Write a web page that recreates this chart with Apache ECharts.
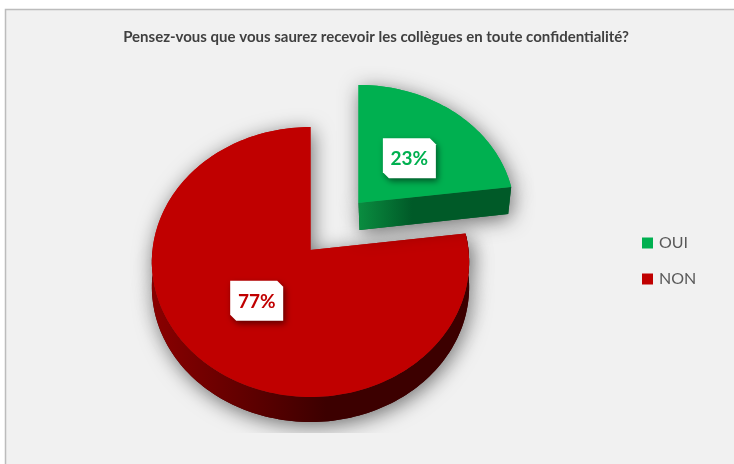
<!DOCTYPE html>
<html><head><meta charset="utf-8">
<style>html,body{margin:0;padding:0;background:#fff}#c{width:734px;height:464px}</style>
<script src="https://cdn.jsdelivr.net/npm/echarts@6/dist/echarts.min.js"></script>
</head><body><div id="c"></div>
<script>
var titleText = "Pensez-vous que vous saurez recevoir les collègues en toute confidentialité?";
var categories = ["OUI", "NON"];
var values = [23, 77];

var total = values[0] + values[1];
var looks = {
  OUI: {top:"#00b050", wall:["#0a8d40","#005a28"], stop:0.35, ox:48, oy:-47, sx:0.985, sy:0.96, depth:27, lx:3, ly:0},
  NON: {top:"#c00000", wall:["#8a0000","#3c0000"], stop:0.55, ox:0, oy:0, sx:1, sy:1, depth:25, lx:-2, ly:1}
};
var apex = {x:310.5, y:250}, A = 158, B = 133.9, K = 0.0889;

function proj(r, deg, L) {
  var t = deg * Math.PI / 180, X = r * Math.sin(t), Y = r * Math.cos(t), d = 1 + K * Y;
  return [apex.x + L.ox + L.sx * A * X / d, apex.y + L.oy - L.sy * B * Y / d];
}
function arc(a0, a1, L, dy) {
  var pts = [], n = Math.max(2, Math.ceil(Math.abs(a1 - a0) / 1.5));
  for (var i = 0; i <= n; i++) {
    var p = proj(1, a0 + (a1 - a0) * i / n, L);
    pts.push([p[0], p[1] + (dy || 0)]);
  }
  return pts;
}
function hGrad(c, stop) {
  return {type:"linear", x:0, y:0, x2:1, y2:0, colorStops:[{offset:0,color:c[0]},{offset:stop,color:c[1]},{offset:1,color:c[1]}]};
}
var shadow = {shadowBlur:20, shadowColor:"rgba(0,0,0,0.55)", shadowOffsetX:2, shadowOffsetY:4};

function slicer(index) {
  return function (params, api) {
    var name = categories[index], L = looks[name], v = api.value(0);
    var start = 0; for (var i = 0; i < index; i++) start += values[i];
    var a0 = start / total * 360, a1 = a0 + v / total * 360, mid = (a0 + a1) / 2;
    var c = proj(0, 0, L), rim = arc(a0, a1, L, 0), topPts = [c].concat(rim);
    var wallPts, kids = [];
    if (name === "OUI") {
      var e = proj(1, a1, L), up = [[c[0],c[1]],[e[0],e[1]]];
      var low = [[e[0]-3,e[1]+L.depth],[c[0]+1,c[1]+L.depth]];
      wallPts = up.concat(low);
    } else {
      var vis = arc(a0, 270, L, 0), back = arc(270, a0, L, L.depth);
      wallPts = vis.concat(back);
    }
    kids.push({type:"polygon", shape:{points:topPts}, style:Object.assign({fill:L.top}, shadow)});
    kids.push({type:"polygon", shape:{points:wallPts}, style:Object.assign({fill:L.wall[1]}, shadow)});
    kids.push({type:"polygon", shape:{points:wallPts}, style:{fill:hGrad(L.wall, L.stop)}});
    kids.push({type:"polygon", shape:{points:topPts}, style:{fill:L.top}});
    var m = proj(0.48, mid, L), w = 26.5, h = 20, s = 6, x = m[0] + L.lx, y = m[1] + L.ly;
    kids.push({type:"polygon", shape:{points:[[x-w,y-h],[x+w-s,y-h],[x+w,y-h+s],[x+w,y+h],[x-w+s,y+h],[x-w,y+h-s]]},
      style:{fill:"#ffffff", shadowBlur:6, shadowColor:"rgba(0,0,0,0.5)", shadowOffsetX:2, shadowOffsetY:3}});
    kids.push({type:"text", style:{text:v + "%", x:x, y:y+1, align:"center", verticalAlign:"middle",
      fill:L.top, font:"bold 19px Lato, 'Open Sans', sans-serif"}});
    return {type:"group", children:kids};
  };
}

var series = [1, 0].map(function (i) {
  return {
    type:"custom", name:categories[i], coordinateSystem:"none", silent:true, animation:false,
    itemStyle:{color:looks[categories[i]].top},
    data:[[values[i]]], renderItem:slicer(i), z:3
  };
});

var chart = echarts.init(document.getElementById("c"), null, {renderer:"canvas"});
chart.setOption({
  animation:false,
  backgroundColor:"#ffffff",
  title:{text:titleText, left:371, top:25, textAlign:"center",
    textStyle:{fontFamily:"Lato", fontWeight:"bold", fontSize:15, color:"#404040"}},
  legend:{data:categories, orient:"vertical", left:637, top:230, icon:"rect",
    itemWidth:11, itemHeight:11, itemGap:20, selectedMode:false,
    textStyle:{fontFamily:"Lato", fontSize:16, color:"#595959", padding:[0,0,0,1]}},
  graphic:[
    {type:"rect", z:-10, silent:true, shape:{x:5.5,y:9.5,width:740,height:470}, style:{fill:"#f1f1f1", stroke:"#bcbcbc", lineWidth:1.5}},
    {type:"rect", z:10, silent:true, shape:{x:100,y:433,width:500,height:31}, style:{fill:"#f1f1f1"}}
  ],
  series:series
});
</script></body></html>
